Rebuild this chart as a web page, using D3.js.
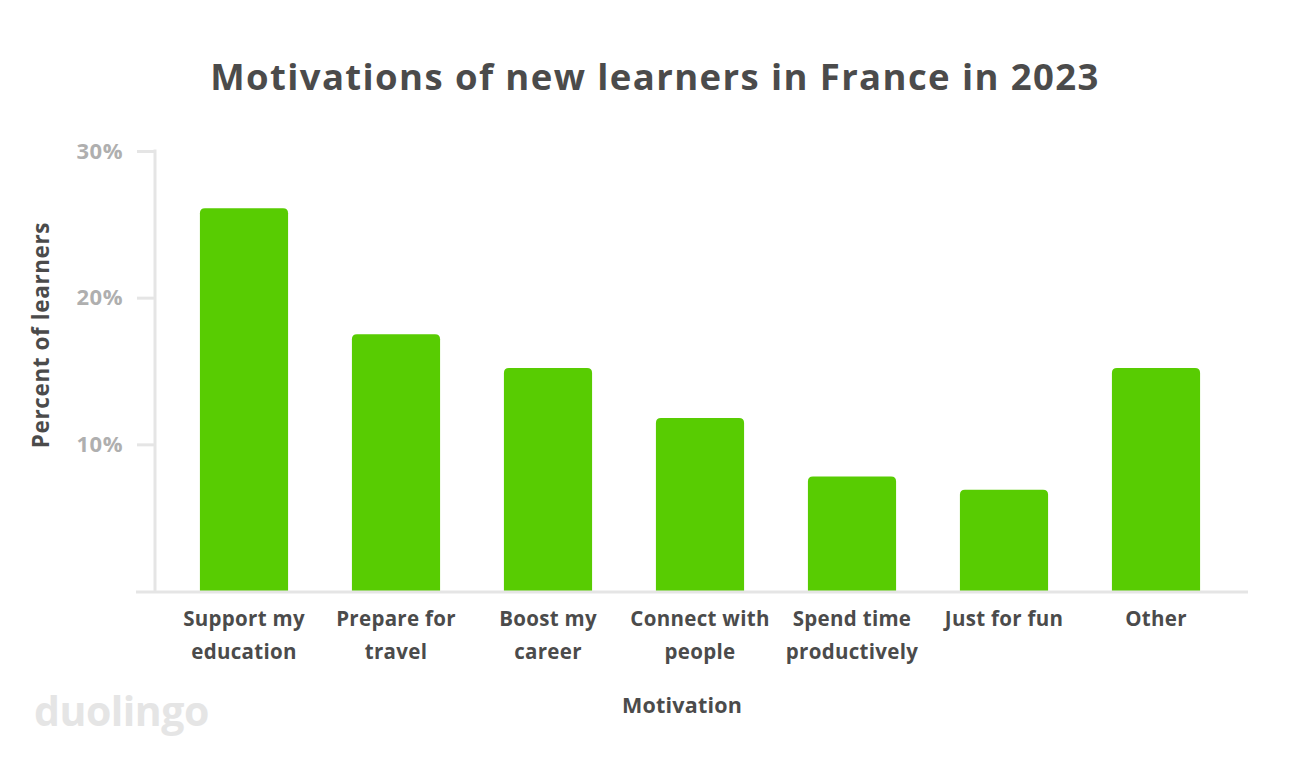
<!DOCTYPE html>
<html><head><meta charset="utf-8">
<script src="https://cdn.jsdelivr.net/npm/d3@7"></script>
<style>body{margin:0;background:#fff}svg{display:block}text{font-family:"Open Sans",Roboto,sans-serif;font-weight:700}</style>
</head><body><svg id="c" width="1310" height="758"></svg>
<script>
const categories = [["Support my","education"],["Prepare for","travel"],["Boost my","career"],["Connect with","people"],["Spend time","productively"],["Just for fun"],["Other"]];
const values = [26.1, 17.5, 15.2, 11.8, 7.8, 6.9, 15.2];
const tickValues = [10, 20, 30];
const tickLabels = ["10%", "20%", "30%"];
const title = "Motivations of new learners in France in 2023";

const svg = d3.select("#c");
const x = d3.scaleBand().domain(categories.map((d,i)=>i)).range([168, 1232]).paddingInner(0.42).paddingOuter(0.21);
const y = d3.scaleLinear().domain([0, 30]).range([591, 151]);
const axisCol = "#e5e5e5";

svg.append("text").attr("x", 655).attr("y", 90).attr("text-anchor","middle")
  .attr("font-size", 36.5).attr("fill","#4b4b4b").attr("letter-spacing","1.4").text(title);

// y axis
const ya = svg.append("g").attr("transform","translate(155,0)")
  .call(d3.axisLeft(y).tickValues(tickValues).tickFormat((d,i)=>tickLabels[i]).tickSize(18).tickPadding(14));
ya.select(".domain").remove();
ya.selectAll(".tick line").attr("stroke",axisCol).attr("stroke-width",3);
ya.selectAll(".tick text").attr("fill","#afafaf").attr("font-size",22).attr("letter-spacing","0.5").attr("font-family","'Open Sans', sans-serif").attr("font-weight",700);
svg.append("line").attr("x1",155).attr("x2",155).attr("y1",y(30)-1.5).attr("y2",592).attr("stroke",axisCol).attr("stroke-width",3);

// bars
const r = 5;
svg.append("g").selectAll("path").data(values).join("path")
  .attr("fill","#58cc02")
  .attr("d",(v,i)=>{
    const x0 = x(i), w = x.bandwidth(), y0 = y(v), yb = y(0);
    return `M${x0},${yb}V${y0+r}Q${x0},${y0} ${x0+r},${y0}H${x0+w-r}Q${x0+w},${y0} ${x0+w},${y0+r}V${yb}Z`;
  });

// baseline
svg.append("line").attr("x1",136).attr("x2",1248).attr("y1",592).attr("y2",592).attr("stroke",axisCol).attr("stroke-width",3);

// x labels
const xl = svg.append("g").selectAll("text").data(categories).join("text")
  .attr("text-anchor","middle").attr("font-size",20.5).attr("letter-spacing","0.3").attr("fill","#4b4b4b")
  .attr("transform",(d,i)=>`translate(${x(i)+x.bandwidth()/2},626)`);
xl.selectAll("tspan").data(d=>d).join("tspan").attr("x",0).attr("dy",(d,j)=>j?33:0).text(d=>d);

svg.append("text").attr("x",682).attr("y",713).attr("text-anchor","middle").attr("font-size",21.5).attr("letter-spacing","0.2").attr("fill","#4b4b4b").text("Motivation");
svg.append("text").attr("transform","translate(49,335) rotate(-90)").attr("text-anchor","middle").attr("font-size",22.5).attr("letter-spacing","0.6").attr("fill","#4b4b4b").text("Percent of learners");

svg.append("text").attr("x",34).attr("y",726).attr("font-size",41).attr("fill","#e5e5e5").attr("font-family","Lato, sans-serif").attr("font-weight",900).attr("letter-spacing","-0.5").text("duolingo");
</script></body></html>
